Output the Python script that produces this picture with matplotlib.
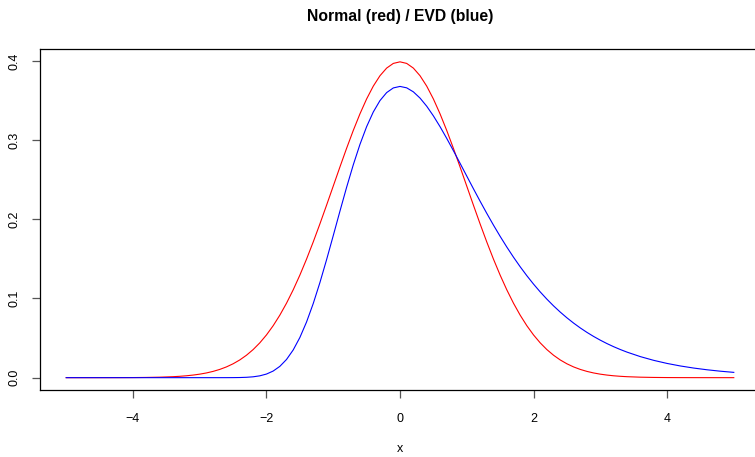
import matplotlib
matplotlib.use("Agg")
import matplotlib.pyplot as plt

plt.rcParams['font.family'] = ['Liberation Sans', 'DejaVu Sans']

x_vals = [-5.0, -4.8, -4.6, -4.4, -4.2, -4.0, -3.8, -3.6, -3.4,
          -3.3, -3.2, -3.1, -3.0, -2.9, -2.8, -2.7, -2.6, -2.5, -2.4,
          -2.3, -2.2, -2.1, -2.0, -1.9, -1.8, -1.7, -1.6, -1.5, -1.4,
          -1.3, -1.2, -1.1, -1.0, -0.9, -0.8, -0.7, -0.6, -0.5, -0.4,
          -0.3, -0.2, -0.1, 0.0, 0.1, 0.2, 0.3, 0.4, 0.5, 0.6,
          0.7, 0.8, 0.9, 1.0, 1.1, 1.2, 1.3, 1.4, 1.5, 1.6,
          1.7, 1.8, 1.9, 2.0, 2.1, 2.2, 2.3, 2.4, 2.5, 2.6,
          2.7, 2.8, 2.9, 3.0, 3.1, 3.2, 3.3,
          3.4, 3.6, 3.8, 4.0, 4.2, 4.4, 4.6, 4.8, 5.0]

normal_density = [0.0000015, 0.000004, 0.00001, 0.000025, 0.000059, 0.00013, 0.00029, 0.00061, 0.00123,
                  0.00172, 0.00238, 0.00327, 0.00443, 0.00595, 0.00792, 0.01042, 0.01358, 0.01753, 0.02239,
                  0.02833, 0.03547, 0.04398, 0.05399, 0.06562, 0.07895, 0.09405, 0.11092, 0.12952, 0.14973,
                  0.17137, 0.19419, 0.21785, 0.24197, 0.26609, 0.28969, 0.31225, 0.33322, 0.35207, 0.36827,
                  0.38139, 0.39104, 0.39695, 0.39894, 0.39695, 0.39104, 0.38139, 0.36827, 0.35207, 0.33322,
                  0.31225, 0.28969, 0.26609, 0.24197, 0.21785, 0.19419, 0.17137, 0.14973, 0.12952, 0.11092,
                  0.09405, 0.07895, 0.06562, 0.05399, 0.04398, 0.03547, 0.02833, 0.02239, 0.01753, 0.01358,
                  0.01042, 0.00792, 0.00595, 0.00443, 0.00327, 0.00238, 0.00172,
                  0.00123, 0.00061, 0.00029, 0.00013, 0.000059, 0.000025, 0.00001, 0.000004, 0.0000015]

evd_density = [0.0, 0.0, 0.0, 0.0, 0.0, 0.0, 0.0, 0.0, 0.0,
               0.0, 0.0, 0.0, 0.0, 0.0, 0.0000012, 0.0000051, 0.000019, 0.000062, 0.00018,
               0.000465, 0.001086, 0.00232, 0.004567, 0.008347, 0.01427, 0.02296, 0.03498, 0.05071, 0.07029,
               0.09355, 0.12002, 0.14895, 0.17938, 0.21022, 0.24038, 0.26881, 0.29461, 0.31704, 0.33560,
               0.34999, 0.36009, 0.36598, 0.36788, 0.36610, 0.36105, 0.35316, 0.34290, 0.33070, 0.31701,
               0.30222, 0.28670, 0.27075, 0.25465, 0.23862, 0.22287, 0.20752, 0.19271, 0.17851, 0.16499,
               0.15218, 0.14011, 0.12879, 0.11820, 0.10834, 0.09918, 0.09069, 0.08285, 0.07562, 0.06896,
               0.06284, 0.05722, 0.05208, 0.04737, 0.04306, 0.03913, 0.03555,
               0.03228, 0.02659, 0.02188, 0.01798, 0.01477, 0.01213, 0.00995, 0.00816, 0.00669]

x_ticks = [-4, -2, 0, 2, 4]
x_tick_labels = ["\u22124", "\u22122", "0", "2", "4"]
y_ticks = [0.0, 0.1, 0.2, 0.3, 0.4]
y_tick_labels = ["0.0", "0.1", "0.2", "0.3", "0.4"]

fig = plt.figure(figsize=(7.55, 4.57), dpi=100)
ax = fig.add_axes([39.5 / 755, 1 - 390.3 / 457, 721 / 755, 341.1 / 457])

ax.plot(x_vals, normal_density, color="#FF0000", lw=0.8)
ax.plot(x_vals, evd_density, color="#0000FF", lw=0.8)

ax.set_xlim(-5.4, 5.4)
ax.set_ylim(-0.01596, 0.41490)

ax.set_xticks(x_ticks)
ax.set_xticklabels(x_tick_labels)
ax.set_yticks(y_ticks)
ax.set_yticklabels(y_tick_labels, rotation=90, va="center")

for s in ax.spines.values():
    s.set_linewidth(0.9)
    s.set_color("black")

ax.tick_params(axis="both", direction="out", length=6, width=0.9, color="#555555",
               labelsize=9)
ax.tick_params(axis="x", pad=10)
ax.tick_params(axis="y", pad=8)

ax.set_xlabel("x", fontsize=9, labelpad=13)
fig.text(400 / 755, 1 - 16.5 / 457, "Normal (red) / EVD (blue)", ha="center", va="center",
         fontsize=11.3, fontweight="bold")

fig.savefig("out.png", dpi=100)
